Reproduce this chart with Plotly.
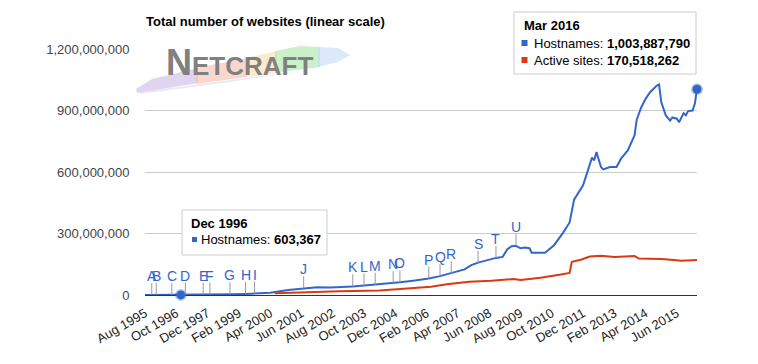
import plotly.graph_objects as go

# ---------------- data ----------------
host_dates = [
    "1995-08-01", "1995-11-01", "1996-01-01", "1996-08-01", "1996-12-01", "1997-02-01",
    "1997-10-01", "1998-01-01", "1998-10-01", "1999-05-01", "1999-09-01", "2000-04-01",
    "2000-12-01", "2001-07-01", "2002-01-01", "2002-07-01", "2002-11-01", "2003-02-01",
    "2003-05-01", "2003-10-01", "2004-03-01", "2004-11-01", "2005-02-01", "2005-08-01",
    "2006-03-01", "2006-08-01", "2007-01-01", "2007-07-01", "2007-10-01", "2008-01-01",
    "2008-09-01", "2008-12-01", "2009-02-01", "2009-04-01", "2009-06-01", "2009-08-01",
    "2009-10-01", "2009-12-01", "2010-01-01", "2010-07-01", "2010-11-01", "2011-03-01",
    "2011-06-01", "2011-08-01", "2011-12-01", "2012-04-01", "2012-05-01", "2012-06-01",
    "2012-08-01", "2012-09-01", "2012-12-01", "2013-03-01", "2013-05-01", "2013-08-01",
    "2013-11-01", "2013-12-01", "2014-02-01", "2014-04-01", "2014-06-01", "2014-09-01",
    "2014-10-01", "2014-11-01", "2015-01-01", "2015-03-01", "2015-04-01", "2015-06-01",
    "2015-07-01", "2015-09-01", "2015-10-01", "2015-11-01", "2016-01-01", "2016-02-01",
    "2016-03-01",
]
host_millions = [
    0.018957, 0.05, 0.1, 0.34, 0.603367, 0.74,
    1.4, 1.8, 3.4, 5.4, 7.1, 11,
    24, 33, 38, 36, 37, 40,
    42, 46, 50, 58, 62, 70,
    80, 92, 106, 125, 146, 158,
    181, 186, 222, 238, 240, 228,
    232, 228, 206, 206, 243, 302,
    354, 465, 535, 670, 657, 697,
    624, 613, 624, 624, 665, 705,
    778, 855, 916, 957, 989, 1022,
    1027, 940, 876, 851, 866, 860,
    843, 887, 876, 897, 900, 934,
    1003.887790,
]

active_dates = [
    "2000-06-01", "2001-05-01", "2002-11-01", "2004-05-01", "2005-08-01", "2006-04-01",
    "2006-11-01", "2007-09-01", "2008-07-01", "2009-05-01", "2009-08-01", "2010-05-01",
    "2011-02-01", "2011-06-01", "2011-07-01", "2011-11-01", "2012-03-01", "2012-08-01",
    "2013-02-01", "2013-11-01", "2014-01-01", "2014-11-01", "2015-06-01", "2015-08-01",
    "2016-03-01",
]
active_millions = [
    8, 13, 18, 22, 32, 40,
    52, 65, 70, 78, 73, 84,
    100, 108, 162, 172, 188, 192,
    185, 190, 178, 176, 170, 167,
    170.518262,
]

event_letters = list("ABCDEFGHIJKLMNOPQRSTU")
event_dates = [
    "1995-11-01", "1996-01-01", "1996-08-01", "1997-02-01", "1997-10-01", "1998-01-01",
    "1998-10-01", "1999-05-01", "1999-09-01", "2001-07-01", "2003-05-01", "2003-10-01",
    "2004-03-01", "2004-11-01", "2005-02-01", "2006-03-01", "2006-08-01", "2007-01-01",
    "2008-01-01", "2008-09-01", "2009-06-01",
]

x_tick_dates = [
    "1995-08-01", "1996-10-01", "1997-12-01", "1999-02-01", "2000-04-01", "2001-06-01",
    "2002-08-01", "2003-10-01", "2004-12-01", "2006-02-01", "2007-04-01", "2008-06-01",
    "2009-08-01", "2010-10-01", "2011-12-01", "2013-02-01", "2014-04-01", "2015-06-01",
]
x_tick_labels = [
    "Aug 1995", "Oct 1996", "Dec 1997", "Feb 1999", "Apr 2000", "Jun 2001",
    "Aug 2002", "Oct 2003", "Dec 2004", "Feb 2006", "Apr 2007", "Jun 2008",
    "Aug 2009", "Oct 2010", "Dec 2011", "Feb 2013", "Apr 2014", "Jun 2015",
]
y_tick_vals = [0, 300_000_000, 600_000_000, 900_000_000, 1_200_000_000]
y_tick_labels = ["0", "300,000,000", "600,000,000", "900,000,000", "1,200,000,000"]

focus_dates = ["1996-12-01", "2016-03-01"]

# ---------------- derived ----------------
hosts = [round(v * 1e6) for v in host_millions]
actives = [round(v * 1e6) for v in active_millions]
host_map = dict(zip(host_dates, hosts))
active_map = dict(zip(active_dates, actives))

FONT = "Arial, Liberation Sans, sans-serif"
BLUE = "#3366cc"
RED = "#dc3912"

fig = go.Figure()
fig.add_trace(go.Scatter(x=host_dates, y=hosts, mode="lines", name="Hostnames",
                         line=dict(color=BLUE, width=2), hoverinfo="skip"))
fig.add_trace(go.Scatter(x=active_dates, y=actives, mode="lines", name="Active sites",
                         line=dict(color=RED, width=2), hoverinfo="skip"))
fig.add_trace(go.Scatter(x=focus_dates, y=[host_map[d] for d in focus_dates], mode="markers",
                         marker=dict(size=9, color=BLUE,
                                     line=dict(color="rgba(51,102,204,0.35)", width=3)),
                         cliponaxis=False, hoverinfo="skip", showlegend=False))

shapes = []
annotations = []

# event annotations
for letter, d in zip(event_letters, event_dates):
    yv = host_map[d]
    shapes.append(dict(type="line", xref="x", yref="y", x0=d, x1=d,
                       ysizemode="pixel", yanchor=yv, y0=0, y1=12,
                       line=dict(color="#999999", width=1)))
    annotations.append(dict(x=d, y=yv, xref="x", yref="y", text=letter, showarrow=False,
                            yshift=19, xanchor="center", yanchor="middle",
                            font=dict(family=FONT, size=14, color=BLUE)))


def prect(xa, ya, x0, x1, y0, y1, **kw):
    """Rectangle in pixel offsets from a paper-coordinate anchor (not clipped)."""
    return dict(type="rect", xref="paper", yref="paper", xsizemode="pixel", ysizemode="pixel",
                xanchor=xa, yanchor=ya, x0=x0, x1=x1, y0=y0, y1=y1, **kw)


def ptext(xa, ya, dx, dy, text, size=13, color="#000"):
    return dict(x=xa, y=ya, xref="paper", yref="paper", showarrow=False, text=text,
                xanchor="left", yanchor="middle", xshift=dx, yshift=dy,
                font=dict(family=FONT, size=size, color=color))


# tooltip 1 (Mar 2016) -- anchored at the plot's top-right corner
d1 = focus_dates[1]
v1 = host_map[d1]
shapes.append(prect(1, 1, -183, -1, -25, 37,
                    line=dict(color="#cccccc", width=1), fillcolor="white"))
annotations.append(ptext(1, 1, -175.5, 24, "<b>Mar 2016</b>"))
for i, (label, val, col) in enumerate([("Hostnames", v1, BLUE),
                                        ("Active sites", active_map[d1], RED)]):
    yc = 6 - 17 * i
    shapes.append(prect(1, 1, -175.5, -169.5, yc - 3, yc + 3, line=dict(width=0), fillcolor=col))
    annotations.append(ptext(1, 1, -165, yc, f"{label}: <b>{val:,}</b>"))

# tooltip 2 (Dec 1996) -- anchored at the plot's bottom-left corner
v2 = host_map[focus_dates[0]]
shapes.append(prect(0, 0, 37, 182, 40, 85,
                    line=dict(color="#cccccc", width=1), fillcolor="white"))
annotations.append(ptext(0, 0, 43.5, 72, "<b>Dec 1996</b>"))
shapes.append(prect(0, 0, 47, 52, 53, 58, line=dict(width=0), fillcolor=BLUE))
annotations.append(ptext(0, 0, 54, 56, f"Hostnames: <b>{v2:,}</b>"))

# title
annotations.append(ptext(0, 1, -1, 28, "<b>Total number of websites (linear scale)</b>"))


# Netcraft logo (decorative brush + text), pixel offsets from plot top-left
def brush(points, color, op=0.6):
    path = "M " + " L ".join(f"{x - 145},{49 - y}" for x, y in points) + " Z"
    return dict(type="path", xref="paper", yref="paper", xsizemode="pixel", ysizemode="pixel",
                xanchor=0, yanchor=1, path=path, fillcolor=color, opacity=op,
                line=dict(width=0), layer="above")


shapes.append(brush([(136, 89), (152, 79), (198, 68), (198, 83), (137, 93)], "#cdb8e8"))
shapes.append(brush([(196, 68), (247, 58), (247, 77), (196, 84)], "#f7bcae"))
shapes.append(brush([(245, 58), (277, 51), (277, 73), (245, 77)], "#f8dea6"))
shapes.append(brush([(275, 51), (300, 46), (320, 47), (320, 67), (275, 73)], "#a9e8a9"))
shapes.append(brush([(318, 47), (338, 48), (350, 55), (338, 62), (318, 67)], "#c3daf8"))
shapes.append(brush([(140, 92), (230, 80), (300, 71), (230, 82), (140, 94)], "#dcd0ee", 0.5))

annotations.append(dict(x=0, y=1, xref="paper", yref="paper", showarrow=False,
                        text="<b><span style='font-size:36px'>N</span>ETCRAFT</b>",
                        xanchor="left", yanchor="middle", xshift=164 - 145, yshift=49 - 62,
                        font=dict(family=FONT, size=26, color="#808080")))

# The page body adds an 8px margin; compensate so the plot area sits at the reference pixels.
fig.update_layout(
    width=750, height=356,
    margin=dict(l=137, r=61, t=41, b=69),
    paper_bgcolor="white", plot_bgcolor="white",
    showlegend=False,
    shapes=shapes, annotations=annotations,
    font=dict(family=FONT, size=13, color="#222"),
    xaxis=dict(type="date", range=["1995-08-01", "2016-03-01"],
               tickvals=x_tick_dates, ticktext=x_tick_labels, tickangle=-30,
               showgrid=False, zeroline=False, showline=False,
               ticks="outside", ticklen=5, tickcolor="rgba(0,0,0,0)",
               tickfont=dict(family=FONT, size=13, color="#222"), automargin=False),
    yaxis=dict(range=[0, 1_200_000_000], tickvals=y_tick_vals, ticktext=y_tick_labels,
               showgrid=True, gridcolor="#cccccc", gridwidth=1,
               zeroline=True, zerolinecolor="#333333", zerolinewidth=1,
               ticks="outside", ticklen=12, tickcolor="rgba(0,0,0,0)",
               tickfont=dict(family=FONT, size=13, color="#444"), automargin=False),
)

fig.write_html("out.html")
